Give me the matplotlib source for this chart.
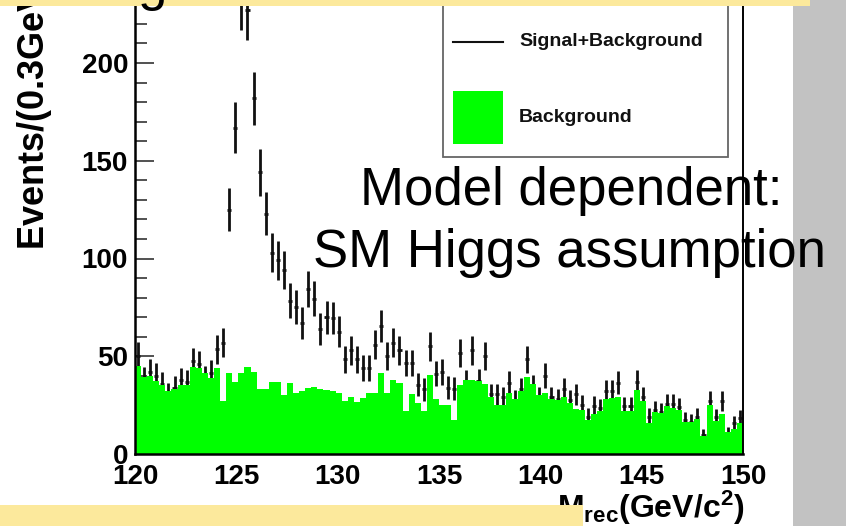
import numpy as np
import matplotlib
matplotlib.use('Agg')
import matplotlib.pyplot as plt
from matplotlib.patches import Rectangle
from matplotlib.lines import Line2D

plt.rcParams['font.family'] = 'Liberation Sans'
plt.rcParams['mathtext.fontset'] = 'custom'
plt.rcParams['mathtext.rm'] = 'Liberation Sans'
plt.rcParams['mathtext.bf'] = 'Liberation Sans:bold'

# recoil mass spectrum: 100 bins of 0.3 GeV from 120 to 150 GeV
m_lo, m_hi, n_bins = 120.0, 150.0, 100

signal_plus_bkg = [
    50, 38.5, 42, 40, 36, 31, 34, 38, 37, 47.5,
    46, 39, 41.5, 53.5, 57, 125, 167, 232, 227, 182,
    144, 123, 103, 99, 94, 78.5, 75, 67, 84.5, 79.5,
    64, 70, 69.5, 62.5, 48.5, 53, 48.5, 44, 44, 56,
    65.5, 50, 57, 53, 46.5, 46.5, 35.5, 33, 55, 41,
    42, 34, 33.5, 51.5, 37, 53, 37.5, 50, 30.5, 30.5,
    29, 36.5, 27.7, 33, 48.5, 34.5, 29, 40, 29, 28,
    33, 27.5, 30.5, 25, 19, 24.5, 23.5, 32, 32, 36.5,
    24.3, 24.3, 37, 29, 19, 22.5, 21.5, 25.5, 25.5, 24,
    17.4, 16.6, 19, 9.7, 27, 18.7, 27, 10.6, 15.7, 18.3,
]

background = [
    45, 39.5, 40, 37.5, 35.5, 32, 33, 35.5, 35.5, 44.5,
    44, 41.5, 39, 44, 27, 41.5, 37, 41.5, 44.5, 42,
    33.5, 33.5, 37, 37, 30, 36.5, 31, 32, 34, 34.5,
    33.5, 32.5, 32, 31, 27, 29, 26.5, 28.5, 31, 31,
    41.5, 31, 38, 36.5, 22, 30.5, 26, 22, 40.5, 28,
    25, 25, 17.5, 35.5, 38, 38, 37.5, 36, 29, 25,
    25, 31, 28, 32, 39.5, 36, 30, 31, 28, 27.5,
    29, 26, 23, 22.5, 17.5, 20.5, 22, 28, 28.5, 29,
    22, 22, 32.5, 27, 16, 21.5, 21, 24.5, 23.5, 22.5,
    16.5, 16.5, 18, 9, 25, 17, 20.5, 11, 13, 16,
]

x_ticks = [120, 125, 130, 135, 140, 145, 150]
y_ticks = [0, 50, 100, 150, 200]

W, H = 846, 526
fig = plt.figure(figsize=(W / 100, H / 100), dpi=100)
fig.patch.set_facecolor('white')


def fx(px):
    return px / W


def fy(py):
    return 1 - py / H


ymax = 250
px_per_unit = 1.955
ax = fig.add_axes([fx(135), fy(454), (743 - 135) / W, ymax * px_per_unit / H])
ax.set_facecolor('white')

edges = np.linspace(m_lo, m_hi, n_bins + 1)
centers = 0.5 * (edges[:-1] + edges[1:])
data = np.array(signal_plus_bkg)

# data points with Poisson errors, background histogram drawn over them
ax.errorbar(centers, data, yerr=np.sqrt(data), xerr=0.1, fmt='none',
            ecolor='#111111', elinewidth=2.0, capsize=0, zorder=2)
ax.stairs(background, edges, fill=True, color='#00ff00', linewidth=0, zorder=3)

ax.set_xlim(m_lo, m_hi)
ax.set_ylim(0, ymax)
ax.set_xticks(x_ticks)
ax.set_yticks(y_ticks)
ax.set_yticks(np.arange(0, ymax + 1, 10), minor=True)
ax.tick_params(axis='x', length=0, pad=7, labelsize=20)
ax.tick_params(axis='y', which='major', direction='in', length=14, width=1.1,
               pad=5, labelsize=20, color='#222222')
ax.tick_params(axis='y', which='minor', direction='in', length=8.5, width=1.1,
               color='#222222')
for lbl in ax.get_xticklabels() + ax.get_yticklabels():
    lbl.set_fontweight('bold')

ax.spines['top'].set_visible(False)
for side, lw in [('left', 1.8), ('bottom', 1.8), ('right', 1.4)]:
    ax.spines[side].set_linewidth(lw)
    ax.spines[side].set_zorder(4)

# legend box (its upper part runs off the top)
fig.add_artist(Rectangle((fx(443), fy(157)), (728 - 443) / W, (157 + 60) / H,
                         transform=fig.transFigure, facecolor='white',
                         edgecolor='#666666', linewidth=1.3, zorder=0.5))
fig.add_artist(Line2D([fx(453), fx(503)], [fy(42), fy(42)],
                      transform=fig.transFigure, color='#111111', linewidth=1.5,
                      zorder=0.6))
fig.add_artist(Rectangle((fx(453), fy(144)), (503 - 453) / W, (144 - 91) / H,
                         transform=fig.transFigure, facecolor='#00ff00',
                         edgecolor='none', zorder=0.6))
fig.text(fx(519), fy(42), 'Signal+Background', fontsize=14, fontweight='bold',
         va='center', ha='left', color='#111111', zorder=0.7)
fig.text(fx(519), fy(117), 'Background', fontsize=14, fontweight='bold',
         va='center', ha='left', color='#111111', zorder=0.7)

# axis titles
fig.text(fx(33), fy(250), r'Events/(0.3GeV/c$^{\mathbf{2}}$)', rotation=90,
         fontsize=26, fontweight='bold', ha='center', va='bottom', zorder=0.7)
fig.text(fx(745), fy(518), r'$\mathbf{M_{rec}(GeV/c^{2})}$', fontsize=23,
         ha='right', va='baseline', zorder=0.7)

# slide decorations: grey side strip and yellow banners
fig.add_artist(Rectangle((fx(793), 0), (W - 793) / W, 1, transform=fig.transFigure,
                         facecolor='#c2c2c2', edgecolor='none', zorder=0.8))
fig.add_artist(Rectangle((0, fy(6)), 810 / W, 6 / H, transform=fig.transFigure,
                         facecolor='#fce99c', edgecolor='none', zorder=1))
fig.add_artist(Rectangle((0, 0), 583 / W, (H - 505) / H, transform=fig.transFigure,
                         facecolor='#fce99c', edgecolor='none', zorder=1))
fig.text(fx(152), fy(0), 'g', fontsize=38, ha='center', va='baseline', zorder=2)

fig.text(fx(571), fy(205), 'Model dependent:', fontsize=38, ha='center',
         va='baseline', zorder=2)
fig.text(fx(569), fy(267), 'SM Higgs assumption', fontsize=38, ha='center',
         va='baseline', zorder=2)

fig.savefig('out.png', dpi=100)
